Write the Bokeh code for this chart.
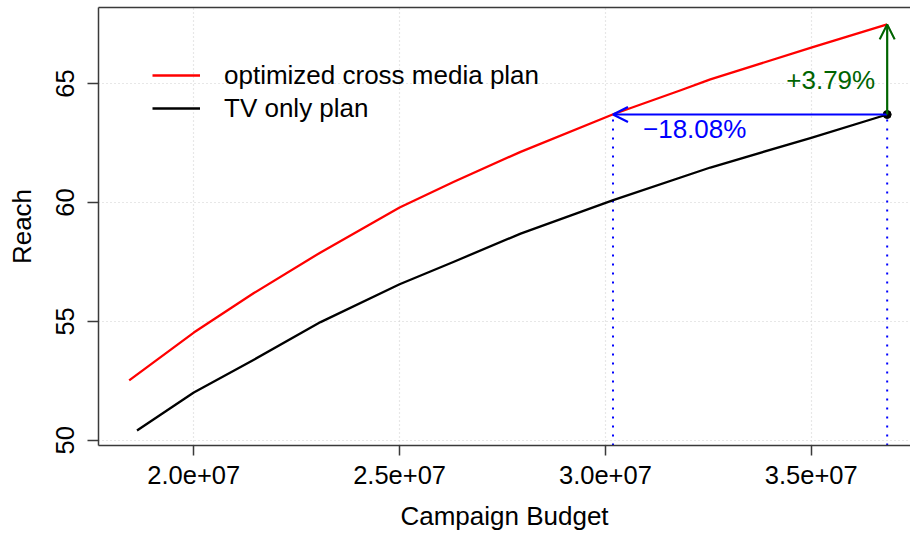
from bokeh.plotting import figure
from bokeh.models import (Range1d, LinearAxis, FixedTicker, Arrow, OpenHead,
                          Label, Legend, LegendItem)
from bokeh.embed import file_html
from bokeh.resources import INLINE

# Reach curves by campaign budget
opt_budget = [1.843e7, 2.000e7, 2.146e7, 2.308e7, 2.500e7, 2.632e7,
              2.794e7, 3.019e7, 3.183e7, 3.255e7, 3.500e7, 3.6846e7]
opt_reach = [52.52, 54.53, 56.19, 57.90, 59.79, 60.87,
             62.13, 63.71, 64.72, 65.18, 66.51, 67.49]

tv_budget = [1.862e7, 2.000e7, 2.146e7, 2.308e7, 2.500e7, 2.632e7,
             2.794e7, 3.019e7, 3.255e7, 3.500e7, 3.6846e7]
tv_reach = [50.41, 52.01, 53.39, 54.97, 56.56, 57.51,
            58.69, 60.10, 61.47, 62.72, 63.70]

# Comparison at the TV-only end point
budget_change_pct = -18.08
reach_gain = 3.79

x_ticks = [2.0e7, 2.5e7, 3.0e7, 3.5e7]
x_tick_labels = ["2.0e+07", "2.5e+07", "3.0e+07", "3.5e+07"]
y_ticks = [50, 55, 60, 65]
y_tick_labels = ["50", "55", "60", "65"]

FONT = "Liberation Sans"
AXIS_COL = "#3a3a3a"

b_end = tv_budget[-1]
r_end = tv_reach[-1]
b_equal = b_end * (1 + budget_change_pct / 100.0)
r_top = r_end + reach_gain

y_lo, y_hi = 49.78, 68.20
p = figure(width=910, height=533,
           x_range=Range1d(1.76846e7, 3.74126e7),
           y_range=Range1d(y_lo, y_hi),
           output_backend="svg", toolbar_location=None,
           min_border_left=98, min_border_right=0,
           min_border_top=7, min_border_bottom=87)
p.outline_line_color = None
p.background_fill_color = "white"
p.border_fill_color = "white"

# axes
xa = p.xaxis[0]
xa.ticker = FixedTicker(ticks=x_ticks)
xa.major_label_overrides = dict(zip(x_ticks, x_tick_labels))
ya = p.yaxis[0]
ya.ticker = FixedTicker(ticks=y_ticks)
ya.major_label_overrides = dict(zip(y_ticks, y_tick_labels))
ya.major_label_orientation = "vertical"

for ax in (xa, ya):
    ax.axis_line_color = AXIS_COL
    ax.axis_line_width = 1.5
    ax.major_tick_line_color = AXIS_COL
    ax.major_tick_line_width = 1.5
    ax.major_tick_in = 0
    ax.minor_tick_in = 0
    ax.minor_tick_out = 0
    ax.major_label_text_font = FONT
    ax.major_label_text_font_size = "25.5px"
    ax.major_label_text_color = "black"
    ax.axis_label_text_font = FONT
    ax.axis_label_text_font_size = "26px"
    ax.axis_label_text_font_style = "normal"
    ax.axis_label_text_color = "black"

xa.axis_label = "Campaign Budget"
xa.major_tick_out = 10
xa.major_label_standoff = 10
xa.axis_label_standoff = 14
ya.axis_label = "Reach"
ya.major_tick_out = 11
ya.major_label_standoff = 13
ya.axis_label_standoff = 17

top = LinearAxis(ticker=FixedTicker(ticks=[]), axis_line_color=AXIS_COL,
                 axis_line_width=1.5, major_tick_out=0, major_tick_in=0,
                 minor_tick_out=0, minor_tick_in=0,
                 major_label_text_font_size="0px")
p.add_layout(top, "above")

for g in (p.xgrid[0], p.ygrid[0]):
    g.grid_line_color = "#cfcfcf"
    g.grid_line_dash = "1 3"
    g.grid_line_width = 1.2

# dotted guides down to the budget axis
p.segment(x0=[b_equal, b_end], y0=[y_lo, y_lo], x1=[b_equal, b_end],
          y1=[r_end, r_end], line_color="blue", line_width=2,
          line_dash="2 7")

r_opt = p.line(opt_budget, opt_reach, line_color="red", line_width=2.3,
               line_join="round")
r_tv = p.line(tv_budget, tv_reach, line_color="black", line_width=2.3,
              line_join="round")

p.add_layout(Arrow(end=OpenHead(size=15, line_color="blue", line_width=2.2),
                   x_start=b_end, y_start=r_end, x_end=b_equal, y_end=r_end,
                   line_color="blue", line_width=2.2))
p.add_layout(Arrow(end=OpenHead(size=15, line_color="#006400", line_width=2.2),
                   x_start=b_end, y_start=r_end, x_end=b_end, y_end=r_top,
                   line_color="#006400", line_width=2.2))
p.scatter([b_end], [r_end], size=8, color="black")

p.add_layout(Label(x=b_end, y=r_end, x_offset=-12, y_offset=35,
                   text=f"+{reach_gain:.2f}%", text_align="right",
                   text_baseline="middle", text_color="#006400",
                   text_font=FONT, text_font_size="26px"))
p.add_layout(Label(x=b_equal, y=r_end, x_offset=30, y_offset=-14,
                   text=f"\u2212{abs(budget_change_pct):.2f}%",
                   text_align="left", text_baseline="middle",
                   text_color="blue", text_font=FONT,
                   text_font_size="26px"))

legend = Legend(items=[LegendItem(label="optimized cross media plan", renderers=[r_opt]),
                       LegendItem(label="TV only plan", renderers=[r_tv])],
                location=(54, 321), padding=0, margin=0, spacing=1,
                glyph_width=48, glyph_height=32, label_height=32,
                label_standoff=24, border_line_color=None,
                background_fill_alpha=0,
                label_text_font=FONT, label_text_font_size="26px",
                label_text_color="black")
p.add_layout(legend)

open("out.html", "w").write(file_html(p, INLINE))
